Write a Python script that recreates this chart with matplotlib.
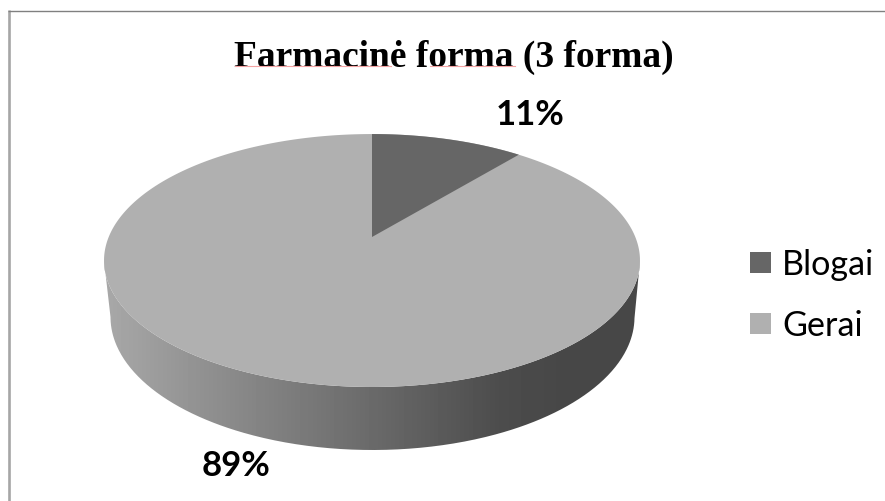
#!/usr/bin/env python3
import numpy as np
import matplotlib
matplotlib.use('Agg')
import matplotlib.pyplot as plt
from matplotlib.patches import Polygon, Rectangle, PathPatch
from matplotlib.path import Path

title = 'Farmacinė forma (3 forma)'
categories = ['Blogai', 'Gerai']
values = [11, 89]
labels = ['11%', '89%']
colors = ['#666666', '#b0b0b0']

W, H = 885, 502
fig = plt.figure(figsize=(W / 100, H / 100), dpi=100)
ax = fig.add_axes([0, 0, 1, 1])
ax.set_xlim(0, W)
ax.set_ylim(H, 0)
ax.axis('off')

# Chart frame, only top and left are in the crop
ax.plot([9.3, 9.3], [H, 11], color='#a6a6a6', lw=1.9, solid_capstyle='butt')
ax.plot([8.3, W], [11.5, 11.5], color='#808080', lw=1.0, solid_capstyle='butt')


# Tilted pie: unit circle seen in perspective
cx, cy = 372, 238
a, b, k = 263.3, 122.1, 0.186


def project(theta):
    u, v = np.sin(theta), np.cos(theta)
    w = 1 + k * v
    return cx + a * u / w, cy - b * v / w


t = np.linspace(0, 2 * np.pi, 721)
xt, yt = project(t)

# Side wall, shaded from left to right
ex, ey, erx, ery = 372.5, 318, 262, 133
s = np.linspace(np.pi, 0, 361)
top_x, top_y = 372 + 268 * np.cos(s), 261.5 + 126.5 * np.sin(s)
bot_x, bot_y = ex + erx * np.cos(s), ey + ery * np.sin(s)
wall = np.vstack([np.column_stack([top_x, top_y]),
                  np.column_stack([bot_x[::-1], bot_y[::-1]])])
clip = PathPatch(Path(np.vstack([wall, wall[0]])), fc='none', ec='none')
ax.add_patch(clip)
gx = np.linspace(104, 640, 536)
g = np.interp(gx, [104, 200, 300, 400, 500, 560, 640],
              [0.66, 0.57, 0.48, 0.39, 0.30, 0.28, 0.28])
im = ax.imshow(g[None, :], extent=(104, 640, 455, 255), cmap='gray',
               vmin=0, vmax=1, aspect='auto', zorder=2)
im.set_clip_path(clip)
ax.set_xlim(0, W)
ax.set_ylim(H, 0)

# Top face, slices from the values
ax.add_patch(Polygon(np.column_stack([xt, yt]), fc=colors[1], ec='none', zorder=3))
frac = values[0] / sum(values)
ts = np.linspace(0, 2 * np.pi * frac, 120)
xs, ys = project(ts)
ax.add_patch(Polygon(np.vstack([[cx, cy], np.column_stack([xs, ys])]),
                     fc=colors[0], ec='none', zorder=4))

# Texts
ax.text(453.5, 57, title, family='Liberation Serif', weight='bold', fontsize=26.9,
        ha='center', va='center', color='black', zorder=5)
# spell-check underlines
ax.plot([235, 391], [67, 67], color='#f4a3a3', lw=0.8, zorder=6)
ax.plot([430, 515], [67, 67], color='#f4a3a3', lw=0.8, zorder=6)
ax.text(530, 115, labels[0], family='Lato', weight='bold', fontsize=25,
        ha='center', va='center', color='black', zorder=5)
ax.text(236, 466, labels[1], family='Lato', weight='bold', fontsize=25,
        ha='center', va='center', color='black', zorder=5)

# Legend
for i, (c, name) in enumerate(zip(categories, colors)):
    y = 263.5 + 61 * i
    ax.add_patch(Rectangle((750, y - 10.5), 21, 21, fc=name, ec='none', zorder=5))
    ax.text(782, y + 1.5, c, family='Lato', fontsize=24.6, ha='left', va='center',
            color='black', zorder=5)

fig.savefig('out.png', dpi=100)
